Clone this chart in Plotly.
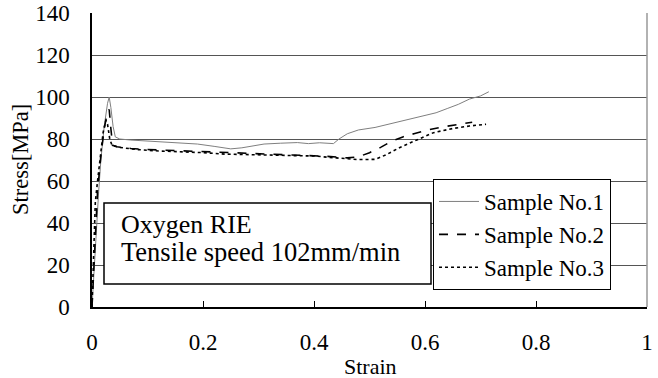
import plotly.graph_objects as go

# ---- data ----
s1_strain = [0, 0.004, 0.008, 0.012, 0.016, 0.022, 0.028, 0.031, 0.034, 0.038, 0.042, 0.05, 0.07, 0.1,
             0.13, 0.16, 0.19, 0.22, 0.25, 0.27, 0.29, 0.31, 0.34, 0.37, 0.39, 0.41, 0.435, 0.445,
             0.46, 0.48, 0.51, 0.54, 0.56, 0.59, 0.62, 0.64, 0.66, 0.68, 0.70, 0.715]
s1_stress = [0, 20, 38, 55, 70, 86, 97, 100, 95, 86, 81, 80, 79.5, 79,
             78.8, 78, 77.6, 76.5, 75.3, 75.8, 76.8, 77.6, 78, 78.3, 77.8, 78.2, 77.8, 80,
             82.5, 84.3, 85.5, 87.5, 88.5, 90.5, 92.5, 94.5, 96.5, 99, 100.5, 102.5]

s2_strain = [0, 0.004, 0.01, 0.016, 0.022, 0.028, 0.031, 0.034, 0.037, 0.045, 0.07, 0.1, 0.14, 0.18,
             0.22, 0.26, 0.3, 0.34, 0.38, 0.42, 0.46, 0.48, 0.5, 0.52, 0.54, 0.56, 0.58, 0.6,
             0.63, 0.66, 0.685]
s2_stress = [0, 25, 55, 72, 85, 93, 94, 85, 77, 76.3, 75.5, 75, 74.6, 74,
             73.8, 73.2, 73, 72.5, 72.2, 71.8, 71, 71.5, 73.5, 76, 79, 81, 82.5, 84,
             85.7, 87, 88]

s3_strain = [0, 0.003, 0.006, 0.01, 0.015, 0.02, 0.025, 0.028, 0.032, 0.036, 0.05, 0.08, 0.12, 0.16,
             0.2, 0.24, 0.28, 0.32, 0.36, 0.4, 0.44, 0.48, 0.51, 0.53, 0.555, 0.58, 0.615, 0.65,
             0.68, 0.71]
s3_stress = [0, 30, 50, 60, 72, 83, 89, 87, 80, 77, 76, 75, 74.3, 74,
             73.5, 72.8, 72.6, 72.3, 72, 71.9, 71, 70.2, 70.3, 72.5, 76, 79, 83, 85,
             86.2, 87]

series_names = ["Sample No.1", "Sample No.2", "Sample No.3"]
x_ticks = [0, 0.2, 0.4, 0.6, 0.8, 1]
x_tick_text = ["0", "0.2", "0.4", "0.6", "0.8", "1"]
y_ticks = [0, 20, 40, 60, 80, 100, 120, 140]

FONT = "Liberation Serif, Times New Roman, serif"
FS = 23

W, H = 658, 378
# plot area in window pixels: x 92..647, y 13..307
PL, PR, PT, PB = 92, 647, 13, 307
def px(x):
    return (x - PL) / (PR - PL)
def py(y):
    return (PB - y) / (PB - PT)

fig = go.Figure()
fig.add_trace(go.Scatter(x=s1_strain, y=s1_stress, mode="lines", name=series_names[0],
                         line=dict(color="#7f7f7f", width=1), legendgroup="a"))
fig.add_trace(go.Scatter(x=s2_strain, y=s2_stress, mode="lines", name=series_names[1],
                         line=dict(color="black", width=1.6, dash="dash"), legendgroup="b"))
fig.add_trace(go.Scatter(x=s3_strain, y=s3_stress, mode="lines", name=series_names[2],
                         line=dict(color="black", width=1.6, dash="dot"), legendgroup="c"))

# right border
fig.add_shape(type="line", xref="paper", yref="paper", x0=1, x1=1, y0=0, y1=1,
              line=dict(color="#999999", width=1.5))
# text box
fig.add_shape(type="rect", xref="paper", yref="paper",
              x0=px(104), x1=px(431), y0=py(284), y1=py(203),
              fillcolor="white", line=dict(color="black", width=1.5), layer="above")
fig.add_annotation(xref="paper", yref="paper", x=px(119), y=py(224),
                   text="Oxygen RIE", showarrow=False, xanchor="left", yanchor="middle",
                   font=dict(family=FONT, size=26, color="black"))
fig.add_annotation(xref="paper", yref="paper", x=px(119), y=py(252),
                   text="Tensile speed 102mm/min", showarrow=False, xanchor="left", yanchor="middle",
                   font=dict(family=FONT, size=26.5, color="black"))
# axis titles
fig.add_annotation(xref="paper", yref="paper", x=px(370), y=py(366),
                   text="Strain", showarrow=False, xanchor="center", yanchor="middle",
                   font=dict(family=FONT, size=22, color="black"))
fig.add_annotation(xref="paper", yref="paper", x=px(20), y=py(160),
                   text="Stress[MPa]", showarrow=False, xanchor="center", yanchor="middle",
                   textangle=-90, font=dict(family=FONT, size=22.5, color="black"))

fig.update_layout(
    width=W, height=H,
    margin=dict(l=PL, r=W - PR, t=PT, b=H - PB, autoexpand=False),
    paper_bgcolor="white", plot_bgcolor="white",
    font=dict(family=FONT, size=FS, color="black"),
    showlegend=True,
    legend=dict(x=px(433), y=py(179), xanchor="left", yanchor="top",
                bgcolor="white", bordercolor="black", borderwidth=1,
                font=dict(family=FONT, size=FS, color="black"),
                tracegroupgap=0, itemwidth=40),
    xaxis=dict(range=[0, 1], tickvals=x_ticks, ticktext=x_tick_text, automargin=False,
               showgrid=False, zeroline=False, showline=True, linecolor="black", linewidth=1.5,
               ticks="inside", ticklen=6, tickcolor="black", ticklabelstandoff=14,
               ticklabeloverflow="allow", tickfont=dict(size=FS)),
    yaxis=dict(range=[0, 140], tickvals=y_ticks, automargin=False,
               showgrid=True, gridcolor="#555555", gridwidth=1, zeroline=False,
               showline=True, linecolor="black", linewidth=1.5, ticks="",
               ticklabelstandoff=16, ticklabeloverflow="allow", tickfont=dict(size=FS)),
)

# remove the default 8px page margin so the figure sits at the window's top-left corner
fig.write_html("out.html", config={"displayModeBar": False},
               post_script="document.body.style.margin='0';")
